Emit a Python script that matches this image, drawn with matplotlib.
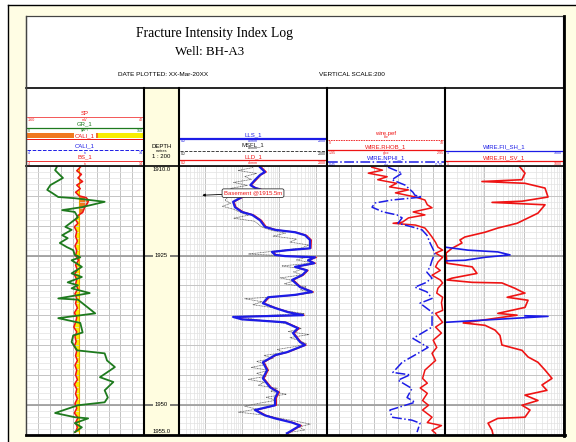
import numpy as np
import matplotlib
matplotlib.use("Agg")
import matplotlib.pyplot as plt
from matplotlib.patches import Rectangle
from matplotlib.ticker import LogLocator

plt.rcParams['font.family'] = ['Liberation Sans', 'DejaVu Sans']

W, H = 576, 442
top_depth, base_depth = 1910.0, 1955.0
depth_marks = [1925, 1950]
bit_size = 8.5

# ---- track 1 : GR / CALI ----
gr_depth = [1910.2, 1910.7, 1911.5, 1912.0, 1913.2, 1914.0, 1914.5, 1915.2, 1915.4, 1916.0,
            1916.9, 1917.4, 1917.7, 1918.6, 1919.4, 1920.2, 1920.7, 1921.6, 1922.1, 1922.9,
            1923.6, 1924.1, 1924.9, 1925.3, 1925.8, 1926.9, 1928.0, 1928.6, 1929.5, 1930.0,
            1930.5, 1931.3, 1932.2, 1932.4, 1934.7, 1935.5, 1936.3, 1937.9, 1938.4, 1939.5,
            1940.9, 1941.4, 1942.6, 1943.7, 1945.4, 1946.2, 1947.6, 1948.8, 1949.6, 1950.1,
            1951.4, 1952.1, 1952.3, 1953.1, 1953.8, 1954.6]
gr = [39, 37, 43, 47, 31, 27, 33, 41, 62, 100,
      71, 46, 62, 66, 58, 50, 58, 46, 53, 43,
      52, 60, 62, 69, 58, 71, 58, 71, 53, 66,
      58, 81, 41, 66, 88, 41, 69, 72, 60, 58,
      65, 100, 103, 113, 94, 111, 100, 104, 100, 66,
      37, 62, 79, 62, 71, 62]

cali_depth = [1910.2, 1910.8, 1911.4, 1912.0, 1912.6, 1913.2, 1913.8, 1914.4, 1915.0,
              1915.3, 1915.8, 1916.3, 1916.8, 1917.3, 1917.8, 1918.3, 1919.0, 1919.6, 1920.2,
              1921.0, 1921.8, 1922.6, 1923.4, 1924.2, 1925.0, 1925.8, 1926.6, 1927.4, 1928.2,
              1929.0, 1929.8, 1930.6, 1931.4, 1932.2, 1933.0, 1933.8, 1934.6, 1935.4, 1936.2,
              1937.0, 1937.8, 1938.6, 1939.4, 1940.2, 1941.0, 1941.8, 1942.6, 1943.4, 1944.2,
              1945.0, 1945.8, 1946.6, 1947.4, 1948.2, 1949.0, 1949.8, 1950.6, 1951.4, 1952.2,
              1953.0, 1953.8, 1954.6]
cali = [8.6, 8.3, 8.7, 8.4, 8.8, 8.3, 8.6, 8.2, 8.5,
        9.1, 9.3, 9.2, 9.0, 8.9, 8.8, 8.4, 8.2, 8.4, 8.1,
        8.3, 8.2, 8.35, 8.15, 8.3, 8.2, 8.45, 8.2, 8.35, 8.1,
        8.3, 8.2, 8.4, 8.15, 8.3, 8.2, 8.35, 8.1, 8.3, 8.2,
        8.05, 8.3, 8.15, 8.25, 8.1, 8.3, 8.2, 8.35, 8.15, 8.3,
        8.2, 8.35, 8.1, 8.3, 8.2, 8.35, 8.15, 8.3, 8.1, 8.4,
        8.2, 8.35, 8.2]

# ---- track 2 : resistivity ----
lls_depth = [1910.2, 1911.0, 1911.5, 1912.3, 1913.2, 1913.7, 1913.9, 1914.4, 1915.2, 1916.0,
             1916.9, 1917.7, 1918.2, 1919.1, 1920.2, 1920.7, 1921.1, 1921.6, 1922.4, 1923.8,
             1924.1, 1924.4, 1924.9, 1925.1, 1925.3, 1925.8, 1926.3, 1926.9, 1927.5, 1928.3,
             1929.1, 1930.3, 1931.1, 1931.6, 1932.0, 1933.0, 1933.8, 1934.5, 1935.0, 1935.3,
             1935.7, 1936.2, 1937.2, 1938.0, 1939.5, 1940.0, 1941.2, 1941.7, 1942.9, 1944.2,
             1945.6, 1947.1, 1947.9, 1948.9, 1950.1, 1950.9, 1951.8, 1952.3, 1953.0, 1953.5,
             1954.8]
lls = [31, 42, 31, 23, 17, 23, 31, 20, 10, 5.8,
       6.5, 10, 19, 31, 42, 79, 273, 509, 695, 695,
       177, 65, 79, 147, 948, 614, 900, 273, 577, 423,
       227, 373, 787, 273, 51, 37, 79, 177, 450, 5.8,
       10, 147, 330, 241, 373, 509, 166, 79, 37, 48,
       37, 58, 95, 79, 79, 22.6, 42, 79, 227, 373,
       166]
lld = [34, 46, 33, 25, 18, 25, 34, 22, 11, 6.2,
       7.0, 11, 21, 34, 46, 88, 300, 560, 760, 740,
       190, 70, 86, 160, 1050, 660, 980, 300, 620, 460,
       250, 400, 860, 300, 56, 40, 86, 190, 490, 6.5,
       11, 160, 360, 260, 400, 550, 180, 86, 40, 52,
       40, 63, 104, 86, 86, 25, 46, 86, 250, 410,
       180]
msfl_depth = np.arange(1910.25, 1955.0, 0.5)
msfl = [20, 8, 25, 12, 18, 6, 14, 5, 11, 7,
        4, 3.5, 5, 3, 6, 9, 15, 6, 22, 28,
        35, 60, 150, 70, 300, 200, 650, 400, 80, 15,
        600, 300, 850, 120, 450, 250, 420, 110, 260, 140,
        550, 380, 850, 200, 12, 35, 20, 70, 150, 480,
        8, 25, 110, 250, 400, 180, 650, 200, 350, 550,
        280, 90, 140, 40, 70, 25, 45, 18, 55, 25,
        45, 15, 40, 28, 90, 60, 160, 45, 85, 30,
        12, 25, 8, 40, 100, 280, 700, 350, 500, 150]

# ---- track 3 : density / neutron ----
rhob_depth = [1910.2, 1910.7, 1911.2, 1911.8, 1912.3, 1912.9, 1913.5, 1914.0, 1914.5, 1915.2,
              1915.7, 1916.5, 1917.0, 1917.7, 1918.2, 1918.7, 1919.4, 1919.6, 1919.9, 1920.4,
              1921.1, 1921.9, 1922.8, 1923.6, 1924.1, 1924.6, 1925.3, 1926.1, 1926.9, 1927.5,
              1928.3, 1929.1, 1929.6, 1930.5, 1931.3, 1932.0, 1932.9, 1934.2, 1934.7, 1936.2,
              1937.0, 1938.0, 1939.2, 1940.4, 1941.4, 1942.6, 1944.2, 1945.6, 1946.4, 1947.2,
              1948.1, 1949.3, 1950.1, 1950.9, 1952.1, 1953.0, 1953.5, 1954.3, 1954.8]
rhob = [2.33, 2.42, 2.30, 2.46, 2.38, 2.54, 2.48, 2.64, 2.53, 2.70,
        2.78, 2.80, 2.84, 2.68, 2.78, 2.64, 2.59, 2.51, 2.70, 2.78,
        2.81, 2.84, 2.87, 2.89, 2.93, 2.87, 2.93, 2.89, 2.87, 2.91,
        2.84, 2.91, 2.93, 2.89, 2.88, 2.93, 2.92, 2.93, 2.87, 2.93,
        2.87, 2.92, 2.85, 2.88, 2.84, 2.87, 2.78, 2.76, 2.80, 2.74,
        2.80, 2.76, 2.81, 2.76, 2.84, 2.80, 2.92, 2.84, 2.87]
nphi_depth = [1910.2, 1911.2, 1912.3, 1913.2, 1914.4, 1914.9, 1915.2, 1915.7, 1916.2, 1916.9,
              1917.7, 1918.2, 1918.7, 1919.6, 1920.2, 1920.7, 1921.6, 1922.9, 1924.6, 1925.8,
              1926.9, 1927.8, 1928.8, 1929.6, 1930.3, 1931.1, 1932.2, 1933.0, 1934.5, 1937.0,
              1938.9, 1940.4, 1941.2, 1942.9, 1944.6, 1945.0, 1945.9, 1947.3, 1948.8, 1949.6,
              1950.9, 1952.1, 1952.6, 1953.1, 1954.6]
nphi = [0.14, 0.068, 0.12, 0.053, 0.013, 0.003, -0.033, 0.12, 0.206, 0.221,
        0.165, 0.094, 0.068, 0.089, 0.018, -0.033, -0.058, -0.074, -0.099, -0.084,
        -0.074, -0.058, -0.084, -0.049, 0.003, -0.058, -0.084, -0.023, -0.084, -0.084,
        0.013, -0.064, -0.023, 0.068, 0.115, 0.028, 0.089, 0.018, 0.043, 0.003,
        0.13, 0.12, 0.018, -0.023, -0.008]

# ---- track 4 : fracture intensity ----
sv_depth = [1910.2, 1911.2, 1912.3, 1912.6, 1912.9, 1913.7, 1915.2, 1915.9, 1916.1, 1916.5,
            1917.9, 1919.6, 1920.4, 1921.1, 1921.9, 1922.4, 1922.9, 1923.8, 1924.6, 1926.3,
            1926.9, 1928.0, 1928.8, 1929.1, 1929.5, 1929.6, 1930.5, 1931.1, 1931.3, 1932.0,
            1932.5, 1933.7, 1934.7, 1935.0, 1936.3, 1936.7, 1937.5, 1938.4, 1940.0, 1940.9,
            1942.0, 1942.9, 1944.2, 1945.6, 1946.7, 1947.6, 1948.4, 1949.3, 1950.1, 1950.9,
            1952.1, 1952.3, 1953.1, 1954.3, 1955.0]
fii_sv = [81, 108, 90, 8.7, 108, 349, 416, 91, 15.7, 349,
          231, 68, 22, 10.4, 3.2, 2.4, 2.7, 1.5, 1.06, 1.12,
          4.9, 6.5, 1.5, 1.12, 4.9, 28, 60, 91, 108, 38,
          129, 108, 22, 68, 2.9, 10.4, 18.7, 25, 28, 91,
          129, 231, 349, 525, 292, 390, 108, 231, 91, 145,
          108, 22, 12.4, 15.7, 16.6]
sh_depth = [1923.6, 1924.1, 1924.4, 1924.9, 1925.3, 1925.8, 1925.9, 1930.0, 1935.1, 1935.2, 1936.2]
fii_sh = [1.0, 3.8, 22, 45, 10.4, 3.2, 1.0, np.nan, 108, 416, 1.0]

RED = '#EE1414'
BLUE = '#1C1CE6'
GREEN = '#1E7A1E'
PANEL = '#FFFDE4'
DEPTHBG = '#FFFDE0'


def box(x0, y0, x1, y1):
    return [x0 / W, 1 - y1 / H, (x1 - x0) / W, (y1 - y0) / H]


fig = plt.figure(figsize=(W / 100, H / 100), dpi=100)
bg = fig.add_axes([0, 0, 1, 1])
bg.set_xlim(0, W)
bg.set_ylim(H, 0)
bg.axis('off')

bg.add_patch(Rectangle((8, 5), W - 8, H - 5, facecolor=PANEL, edgecolor='none'))
bg.plot([8, 8], [5, H], color='black', lw=1.0)
bg.plot([8, W], [5, 5], color='black', lw=1.0)
bg.add_patch(Rectangle((26, 16), 537, 418.5, facecolor='white', edgecolor='#444444', lw=0.8))
bg.add_patch(Rectangle((144, 88), 35, 346.5, facecolor=DEPTHBG, edgecolor='none'))

# title block
bg.text(214, 33, 'Fracture Intensity Index Log', family='Liberation Serif', fontsize=9.8,
        ha='center', va='center')
bg.text(210, 52, 'Well: BH-A3', family='Liberation Serif', fontsize=9.4, ha='center', va='center')
bg.text(163, 75, 'DATE PLOTTED: XX-Mar-20XX', fontsize=4.6, ha='center', va='center')
bg.text(352, 75, 'VERTICAL SCALE:200', fontsize=4.6, ha='center', va='center')


def legend_row(x0, x1, y, name, color, ls='-', lw=0.9, lo='', hi='', unit='', unit_above=False):
    bg.plot([x0 + 1, x1 - 1], [y, y], color=color, ls=ls, lw=lw)
    small = dict(fontsize=2.6, color=color)
    if unit_above:
        bg.text((x0 + x1) / 2, y - 4.2, name, color=color, fontsize=4.3, ha='center', va='bottom')
        bg.text((x0 + x1) / 2, y - 0.8, unit, ha='center', va='bottom', **small)
    else:
        bg.text((x0 + x1) / 2, y - 1.2, name, color=color, fontsize=4.3, ha='center', va='bottom')
        bg.text((x0 + x1) / 2, y + 0.8, unit, ha='center', va='top', **small)
    bg.text(x0 + 1.5, y + 0.8, lo, ha='left', va='top', **small)
    bg.text(x1 - 1.5, y + 0.8, hi, ha='right', va='top', **small)


# track 1 header
legend_row(26, 144, 117, 'SP', RED, lw=0.5, lo='-160', hi='40', unit='mV')
legend_row(26, 144, 127.7, 'GR_1', GREEN, lo='0', hi='150', unit='gAPI')
bg.add_patch(Rectangle((27, 133), 71, 5.3, facecolor='#F07820', edgecolor='none'))
bg.add_patch(Rectangle((98, 133), 45, 5.3, facecolor='#F8EE00', edgecolor='none'))
bg.plot([27, 143], [138.6, 138.6], color=RED, lw=0.7)
bg.text(85, 135.7, 'CALI_1', color=RED, fontsize=4.3, ha='center', va='center',
        bbox=dict(boxstyle='square,pad=0.1', fc='white', ec='none'))
legend_row(26, 144, 150, 'CALI_1', BLUE, ls='--', lw=0.7, lo='4', hi='14', unit='in')
legend_row(26, 144, 161, 'BS_1', RED, lw=0.6, lo='4', hi='14', unit='in')

# depth header
bg.text(161.5, 146.5, 'DEPTH', fontsize=4.3, ha='center', va='center')
bg.text(161.5, 151.5, 'metres', fontsize=2.8, ha='center', va='center')
bg.text(161.5, 156.5, '1 : 200', fontsize=4.3, ha='center', va='center')

# track 2 header
legend_row(179, 327, 138.7, 'LLS_1', BLUE, lw=1.6, lo='0.2', hi='2000', unit='ohmm')
legend_row(179, 327, 151.2, 'MSFL_1', '#222222', ls='--', lw=0.6, lo='0.2', hi='2000',
           unit='ohmm', unit_above=True)
legend_row(179, 327, 160.3, 'LLD_1', RED, lo='0.2', hi='2000', unit='ohmm')

# track 3 header
legend_row(327, 445, 140.3, 'wire.pef', RED, ls=(0, (2, 1)), lw=0.6, lo='0', hi='10',
           unit='b/e', unit_above=True)
legend_row(327, 445, 150.3, 'WIRE.RHOB_1', RED, lo='1.95', hi='2.95', unit='g/cc')
legend_row(327, 445, 161.7, 'WIRE.NPHI_1', BLUE, ls='-.', lw=1.1, lo='0.45', hi='-0.15', unit='v/v')

# track 4 header
legend_row(445, 563, 150.7, 'WIRE.FII_SH_1', BLUE, lo='1', hi='1000')
legend_row(445, 563, 161.3, 'WIRE.FII_SV_1', RED, lo='1', hi='1000')


def track(x0, x1, xlim, log=False, ndiv=10):
    ax = fig.add_axes(box(x0, 166, x1, 434.5))
    if log:
        ax.set_xscale('log')
    ax.set_xlim(*xlim)
    ax.set_ylim(base_depth, top_depth)
    if log:
        ax.xaxis.set_major_locator(LogLocator(base=10, numticks=20))
        ax.xaxis.set_minor_locator(LogLocator(base=10, subs=np.arange(2, 10), numticks=20))
    else:
        ax.set_xticks(np.linspace(xlim[0], xlim[1], ndiv + 1))
    ax.set_yticks(np.arange(top_depth, base_depth + 0.1, 5))
    ax.set_yticks(np.arange(top_depth, base_depth + 0.1, 1), minor=True)
    ax.grid(which='minor', color='#E2E2E2', lw=0.5)
    ax.grid(which='major', color='#C4C4C4', lw=0.7)
    for d in depth_marks:
        ax.axhline(d, color='#A0A0A0', lw=1.3)
    ax.tick_params(which='both', length=0, labelbottom=False, labelleft=False)
    for s in ax.spines.values():
        s.set_visible(False)
    return ax


def twin(ax, xlim):
    t = ax.twiny()
    t.set_xlim(*xlim)
    t.tick_params(which='both', length=0, labeltop=False, labelbottom=False)
    for s in t.spines.values():
        s.set_visible(False)
    return t


# track 1
ax1 = track(26, 144, (4, 14))
cali_arr = np.array(cali)
bs_arr = np.full_like(cali_arr, bit_size)
ax1.fill_betweenx(cali_depth, cali_arr, bs_arr, where=cali_arr <= bs_arr, interpolate=True,
                  color='#F8EE00', lw=0)
ax1.fill_betweenx(cali_depth, cali_arr, bs_arr, where=cali_arr >= bs_arr, interpolate=True,
                  color='#F07820', lw=0)
ax1.plot([bit_size, bit_size], [top_depth, base_depth], color='#E8A000', lw=0.8)
ax1.plot(cali, cali_depth, color=RED, lw=1.1)
ax1g = twin(ax1, (0, 150))
ax1g.plot(gr, gr_depth, color=GREEN, lw=1.3)

# depth track
axd = fig.add_axes(box(144, 166, 179, 434.5))
axd.set_facecolor(DEPTHBG)
axd.set_ylim(base_depth, top_depth)
axd.set_xlim(0, 1)
axd.axis('off')
for d in depth_marks:
    axd.axhline(d, color='#555555', lw=1.1)
    axd.text(0.5, d, str(d), fontsize=4.2, ha='center', va='center',
             bbox=dict(boxstyle='square,pad=0.25', fc=DEPTHBG, ec='none'))
axd.text(0.5, top_depth + 0.2, f'{top_depth:.1f}', fontsize=4.2, ha='center', va='top')
axd.text(0.5, base_depth - 0.1, f'{base_depth:.1f}', fontsize=4.2, ha='center', va='bottom')

# track 2
ax2 = track(179, 327, (0.2, 2000), log=True)
ax2.plot(msfl, msfl_depth, color='#555555', lw=0.5, ls=(0, (1.5, 0.8)))
ax2.plot(lld, lls_depth, color=RED, lw=0.8)
ax2.plot(lls, lls_depth, color=BLUE, lw=1.6)
ax2.annotate('Basement @1915.5m', xy=(0.85, 1914.9), xytext=(20, 1914.55), color=RED,
             fontsize=4.3, ha='center', va='center',
             bbox=dict(boxstyle='round,pad=0.3', fc='white', ec='#333333', lw=0.6),
             arrowprops=dict(arrowstyle='-|>', color='black', lw=0.6, mutation_scale=4,
                             shrinkA=0, shrinkB=0))

# track 3
ax3 = track(327, 445, (1.95, 2.95))
ax3.plot(rhob, rhob_depth, color=RED, lw=1.1)
ax3n = twin(ax3, (0.45, -0.15))
ax3n.plot(nphi, nphi_depth, color=BLUE, lw=1.1, ls='-.')

# track 4
ax4 = track(445, 563, (1, 1000), log=True)
ax4.plot(fii_sv, sv_depth, color=RED, lw=1.2)
ax4.plot(fii_sh, sh_depth, color=BLUE, lw=1.2)

# separators on top
fg = fig.add_axes([0, 0, 1, 1])
fg.patch.set_alpha(0)
fg.set_xlim(0, W)
fg.set_ylim(H, 0)
fg.axis('off')
for x in [144, 179, 327, 445]:
    fg.plot([x, x], [88, 434.5], color='black', lw=1.5)
fg.plot([26, 563], [88, 88], color='black', lw=1.2)
fg.plot([26, 563], [165.8, 165.8], color='black', lw=1.2)
fg.plot([26, 26], [16, 434.5], color='#444444', lw=1.0)
fg.plot([26, 563], [16, 16], color='#444444', lw=0.8)
fg.plot([563.5, 563.5], [16, 435.5], color='black', lw=2.0)
fg.plot([26, 564.5], [435, 435], color='black', lw=2.0)

fig.savefig('out.png', dpi=100)
